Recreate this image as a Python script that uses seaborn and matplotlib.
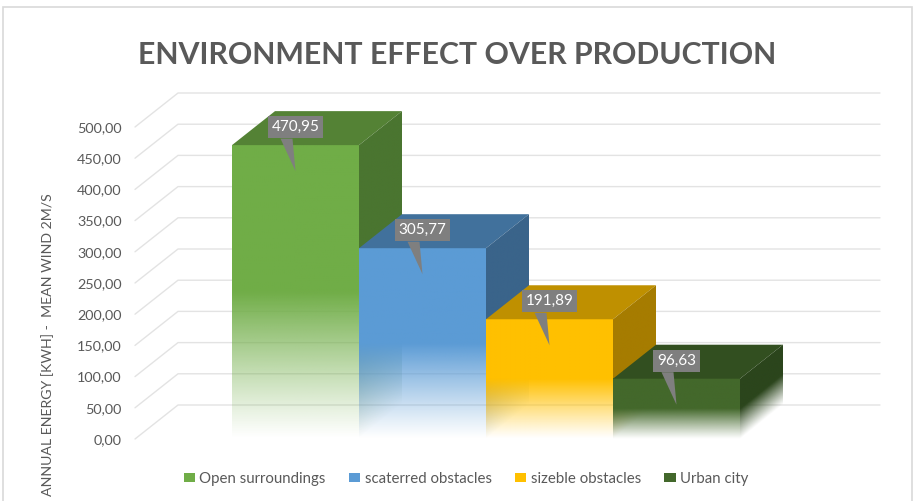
import numpy as np
import matplotlib
matplotlib.use("Agg")
import matplotlib.pyplot as plt
import seaborn as sns
import pandas as pd
from matplotlib.patches import Polygon, Rectangle, Patch
from matplotlib.ticker import FuncFormatter

# ---------------- data ----------------
categories = ["Open surroundings", "scaterred obstacles", "sizeble obstacles", "Urban city"]
values = [470.95, 305.77, 191.89, 96.63]
value_labels = ["470,95", "305,77", "191,89", "96,63"]
y_ticks = [0, 50, 100, 150, 200, 250, 300, 350, 400, 450, 500]
title = "ENVIRONMENT EFFECT OVER PRODUCTION"
y_title = "ANNUAL ENERGY [KWH] -  MEAN WIND 2M/S"

front_colors = ["#70AD47", "#5B9BD5", "#FFC000", "#43682B"]
top_colors = ["#548235", "#41719C", "#BF9000", "#324F20"]
side_colors = ["#4A7530", "#3A648A", "#A67C00", "#2B451C"]

# ---------------- style ----------------
sns.set_theme(style="white")
plt.rcParams["font.family"] = ["Lato", "DejaVu Sans"]
TXT = "#595959"
GRID = "#E3E3E3"

W, H = 913, 501
fig = plt.figure(figsize=(W / 100, H / 100), dpi=100)

# pixel geometry of the plot region
ax_left_px, ax_right_px = 135, 880
ax_bottom_px, ax_top_px = 439, 93
PPX = 127.0          # pixels per category unit
PPY = 0.624          # pixels per value unit
DX = 43 / PPX        # depth offset (x, data units)
DY = 34 / PPY        # depth offset (y, data units)

ax = fig.add_axes([ax_left_px / W, 1 - ax_bottom_px / H,
                   (ax_right_px - ax_left_px) / W, (ax_bottom_px - ax_top_px) / H])
x_min = -0.5 - (232 - 135) / PPX
x_max = x_min + (ax_right_px - ax_left_px) / PPX
y_max = (ax_bottom_px - ax_top_px) / PPY

df = pd.DataFrame({"cat": categories, "val": values})
sns.barplot(data=df, x="cat", y="val", hue="cat", palette=front_colors,
            order=categories, hue_order=categories, width=1.0, legend=False,
            ax=ax, saturation=1)

# back-wall gridlines with floor diagonals
for g in y_ticks:
    ax.plot([x_min, x_min + DX, x_max], [g, g + DY, g + DY],
            color=GRID, lw=1.0, zorder=0.5, clip_on=False)

def front_alpha(frac):
    return np.clip(frac / 0.5, 0, 1) ** 1.1

bars = [p for p in ax.patches]
for i, p in enumerate(bars):
    x0 = p.get_x()
    w = p.get_width()
    v = p.get_height()
    x1 = x0 + w
    z = 2 + i * 0.1
    p.set_visible(False)
    # front face gradient
    n = 200
    frac = np.linspace(1, 0, n)[:, None]
    rgba = np.zeros((n, 1, 4))
    rgba[..., :3] = matplotlib.colors.to_rgb(front_colors[i])
    rgba[..., 3] = front_alpha(frac)
    ax.imshow(rgba, extent=[x0, x1, 0, v], aspect="auto", zorder=z,
              interpolation="bilinear")
    # top face
    ax.add_patch(Polygon([[x0, v], [x1, v], [x1 + DX, v + DY], [x0 + DX, v + DY]],
                         closed=True, facecolor=top_colors[i], edgecolor="none",
                         zorder=z + 0.01))
    # side face with diagonal gradient
    nx, ny = 60, 240
    xs = np.linspace(x1, x1 + DX, nx)
    ys = np.linspace(v + DY, 0, ny)
    XX, YY = np.meshgrid(xs, ys)
    h_local = YY - (XX - x1) / DX * DY
    srgba = np.zeros((ny, nx, 4))
    srgba[..., :3] = matplotlib.colors.to_rgb(side_colors[i])
    srgba[..., 3] = front_alpha(h_local / v)
    side_poly = Polygon([[x1, 0], [x1, v], [x1 + DX, v + DY], [x1 + DX, DY]],
                        closed=True, facecolor="none", edgecolor="none",
                        zorder=z + 0.02)
    ax.add_patch(side_poly)
    im = ax.imshow(srgba, extent=[x1, x1 + DX, 0, v + DY], aspect="auto",
                   zorder=z + 0.02, interpolation="bilinear")
    im.set_clip_path(side_poly)

    # data label callout
    cx = x0 + w / 2
    box_cy = v + 18 / PPY
    box_bot = box_cy - 12.5 / PPY
    ax.add_patch(Polygon([[cx - 15 / PPX, box_bot + 1 / PPY],
                          [cx - 3 / PPX, box_bot + 1 / PPY],
                          [cx, v - 26 / PPY]],
                         closed=True, facecolor="#7F7F7F", edgecolor="none",
                         zorder=10))
    ax.text(cx, box_cy, value_labels[i], ha="center", va="center",
            color="white", fontsize=11, zorder=11,
            bbox=dict(boxstyle="square,pad=0.25", facecolor="#7F7F7F",
                      edgecolor="none"))

ax.set_xlim(x_min, x_max)
ax.set_ylim(0, y_max)
ax.set_yticks(y_ticks)
ax.yaxis.set_major_formatter(FuncFormatter(lambda t, _: f"{t:.2f}".replace(".", ",")))
ax.tick_params(axis="y", length=0, pad=9.5, labelsize=10.4, labelcolor=TXT)
ax.set_xticks([])
ax.set_xlabel("")
ax.set_ylabel("")
for s in ax.spines.values():
    s.set_visible(False)
ax.patch.set_alpha(0)

# title
fig.text(457 / W, 1 - 55 / H, title, ha="center", va="center", color=TXT,
         fontsize=21.8, fontweight="bold")

# y-axis title
fig.text(48 / W, 1 - 345 / H, y_title, ha="center", va="center", rotation=90,
         color=TXT, fontsize=10.2)

# legend
handles = [Patch(facecolor=c, edgecolor="none") for c in front_colors]
fig.legend(handles, categories, loc="center", bbox_to_anchor=(466 / W, 1 - 479 / H),
           ncol=4, frameon=False, fontsize=10.8, labelcolor=TXT,
           handlelength=0.75, handleheight=0.55, handletextpad=0.3,
           columnspacing=1.55)

# chart border
fig.add_artist(Rectangle((3 / W, -0.1), (912 - 3) / W, 1.1 - 7 / H,
                         transform=fig.transFigure, fill=False,
                         edgecolor="#D9D9D9", lw=1.2))

fig.savefig("out.png", dpi=100, facecolor="white")
